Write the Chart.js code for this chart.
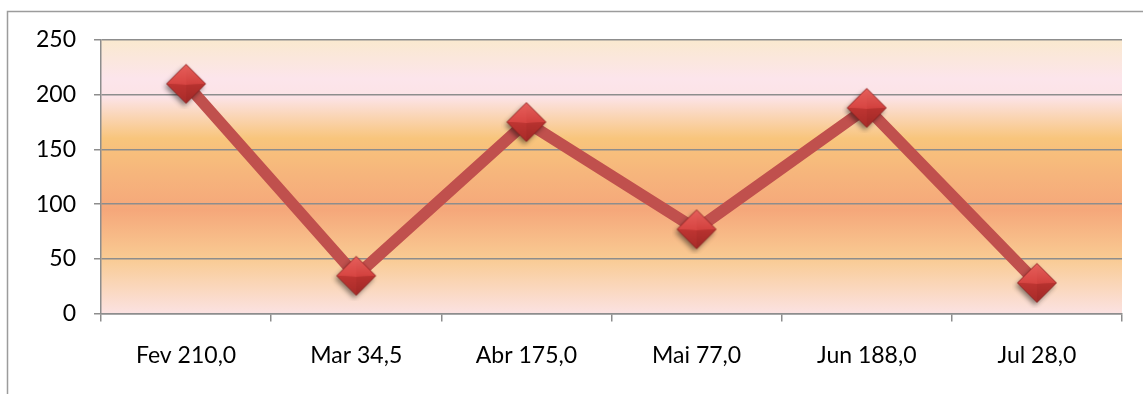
<!DOCTYPE html>
<html>
<head>
<meta charset="utf-8">
<script src="https://cdn.jsdelivr.net/npm/chart.js@4/dist/chart.umd.min.js"></script>
<style>
  html, body { margin: 0; padding: 0; background: #ffffff; }
  #wrap { width: 1143px; height: 394px; position: relative; }
  canvas { display: block; }
</style>
</head>
<body>
<div id="wrap"><canvas id="c" width="1143" height="394"></canvas></div>
<script>
// ---- data ----
const categories = ['Fev 210,0', 'Mar 34,5', 'Abr 175,0', 'Mai 77,0', 'Jun 188,0', 'Jul 28,0'];
const values = [210, 34.5, 175, 77, 188, 28];
const yMin = 0;
const yMax = 250;
const yStep = 50;

// ---- marker image (gem-like diamond with shadow) ----
function makeMarker() {
  const S = 50, c = S / 2, r = 19.5;
  const cv = document.createElement('canvas');
  cv.width = S; cv.height = S;
  const g = cv.getContext('2d');
  g.save();
  g.shadowColor = 'rgba(0,0,0,0.45)';
  g.shadowBlur = 5;
  g.shadowOffsetX = -2;
  g.shadowOffsetY = 3;
  g.beginPath();
  g.moveTo(c, c - r); g.lineTo(c + r, c); g.lineTo(c, c + r); g.lineTo(c - r, c); g.closePath();
  g.fillStyle = '#B53633';
  g.fill();
  g.restore();
  const tri = (pts, fill) => {
    g.beginPath();
    g.moveTo(pts[0][0], pts[0][1]);
    for (let i = 1; i < pts.length; i++) g.lineTo(pts[i][0], pts[i][1]);
    g.closePath();
    g.fillStyle = fill;
    g.fill();
  };
  const T = [c, c - r], R = [c + r, c], B = [c, c + r], L = [c - r, c], C = [c, c + 1];
  let gr = g.createLinearGradient(0, c - r, 0, c);
  gr.addColorStop(0, '#E4605C'); gr.addColorStop(1, '#D3423F');
  tri([T, R, C], gr);
  gr = g.createLinearGradient(0, c - r, 0, c);
  gr.addColorStop(0, '#E65F5B'); gr.addColorStop(1, '#D84643');
  tri([T, L, C], gr);
  gr = g.createLinearGradient(0, c, 0, c + r);
  gr.addColorStop(0, '#BF3532'); gr.addColorStop(1, '#A82B29');
  tri([L, B, C], gr);
  gr = g.createLinearGradient(0, c, 0, c + r);
  gr.addColorStop(0, '#B8322F'); gr.addColorStop(1, '#A02826');
  tri([R, B, C], gr);
  g.beginPath();
  g.moveTo(T[0], T[1]); g.lineTo(R[0], R[1]); g.lineTo(B[0], B[1]); g.lineTo(L[0], L[1]); g.closePath();
  g.strokeStyle = 'rgba(120,25,25,0.6)';
  g.lineWidth = 1;
  g.stroke();
  return cv;
}
const marker = makeMarker();

// ---- plugins ----
const plotBackground = {
  id: 'plotBackground',
  beforeDraw(chart) {
    const { ctx, chartArea: a } = chart;
    const gr = ctx.createLinearGradient(0, a.top, 0, a.bottom);
    gr.addColorStop(0.00, '#FAE9CF');
    gr.addColorStop(0.14, '#FCE5EB');
    gr.addColorStop(0.21, '#FCE3E6');
    gr.addColorStop(0.36, '#F8C57C');
    gr.addColorStop(0.50, '#F6B47C');
    gr.addColorStop(0.62, '#F5A77A');
    gr.addColorStop(0.80, '#F9CB93');
    gr.addColorStop(1.00, '#FBE2E2');
    ctx.save();
    ctx.fillStyle = gr;
    ctx.fillRect(a.left, a.top, a.right - a.left, a.bottom - a.top);
    ctx.restore();
  }
};
const outerFrame = {
  id: 'outerFrame',
  beforeDraw(chart) {
    const { ctx, width, height } = chart;
    ctx.save();
    ctx.strokeStyle = '#9C9C9C';
    ctx.lineWidth = 1.5;
    ctx.beginPath();
    ctx.moveTo(7.5, height + 2);
    ctx.lineTo(7.5, 11.5);
    ctx.lineTo(width + 2, 11.5);
    ctx.stroke();
    ctx.restore();
  }
};

const FONT = { family: 'Lato, "Open Sans", sans-serif', size: 23 };

new Chart(document.getElementById('c'), {
  type: 'line',
  data: {
    labels: categories,
    datasets: [{
      data: values,
      borderColor: '#C0504D',
      borderWidth: 11.5,
      borderJoinStyle: 'round',
      tension: 0,
      pointStyle: marker,
      pointRadius: 19,
      pointHoverRadius: 19
    }]
  },
  options: {
    responsive: false,
    animation: false,
    events: [],
    layout: { autoPadding: false, padding: { top: 40, right: 21, bottom: 0, left: 0 } },
    plugins: { legend: { display: false }, tooltip: { enabled: false } },
    scales: {
      x: {
        type: 'category',
        offset: true,
        grid: { offset: true, drawOnChartArea: false, drawTicks: true, tickLength: 8, color: '#8D8D8D', lineWidth: 1.5 },
        border: { color: '#8D8D8D', width: 1.5 },
        ticks: { color: '#000', font: FONT, padding: 20, maxRotation: 0, autoSkip: false },
        afterFit(s) { s.height = 80.5; s.paddingLeft = 0; s.paddingRight = 0; }
      },
      y: {
        min: yMin, max: yMax,
        grid: { color: '#8D8D8D', lineWidth: 1.5, tickLength: 7 },
        border: { color: '#8D8D8D', width: 1.5 },
        ticks: { stepSize: yStep, color: '#000', font: FONT, padding: 18 },
        afterFit(s) { s.width = 101; }
      }
    }
  },
  plugins: [outerFrame, plotBackground]
});
</script>
</body>
</html>
